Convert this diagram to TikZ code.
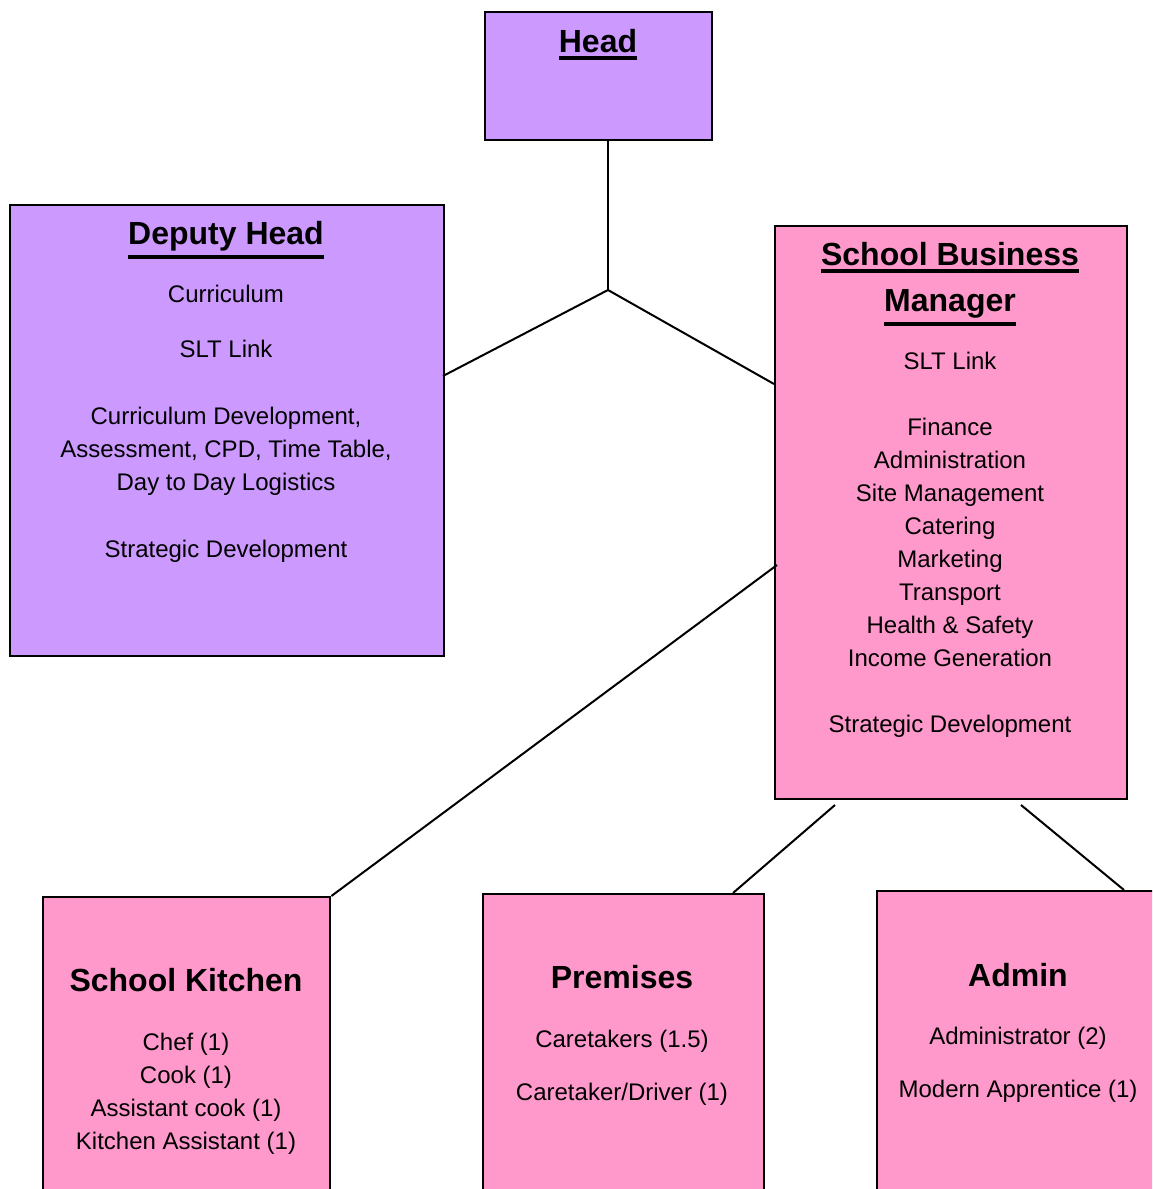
\documentclass[tikz,border=0pt]{standalone}
\usepackage{fontspec}
\setmainfont{Liberation Sans}
\definecolor{lav}{HTML}{CC99FF}
\definecolor{pnk}{HTML}{FF99CC}
\newcommand\myul[1]{\vtop{\hbox{#1}\kern2pt\hrule height 2pt}}
\begin{document}
\begin{tikzpicture}[x=0.5pt,y=-0.5pt,
  box/.style={draw=black,line width=1.2pt,inner sep=0pt,anchor=north west},
  body/.style={font=\fontsize{12}{16.5}\selectfont,align=center,inner sep=0pt},
  ttl/.style={font=\fontsize{16}{23}\selectfont\bfseries,inner sep=0pt,anchor=base},
  link/.style={line width=1pt,draw=black}]
\useasboundingbox (0,0) rectangle (1152,1189);
\clip (0,0) rectangle (1152,1189);
\fill[white] (0,0) rectangle (1152,1189);

% boxes
\node[box,fill=lav,minimum width=113.5pt,minimum height=64pt] (head) at (484,11) {};
\node[box,fill=lav,minimum width=217pt,minimum height=225.5pt] (deputy) at (9,204) {};
\node[box,fill=pnk,minimum width=176pt,minimum height=286.5pt] (sbm) at (774,225) {};
\node[box,fill=pnk,minimum width=143.5pt,minimum height=152pt] (kitchen) at (42,896) {};
\node[box,fill=pnk,minimum width=140.5pt,minimum height=153.5pt] (prem) at (482,893) {};
\node[box,fill=pnk,minimum width=144.5pt,minimum height=155pt] (admin) at (876,890) {};

% connector points
\coordinate (J) at (608,290);
\coordinate (dpIn) at (443,376);
\coordinate (sbIn) at (774,384);
\coordinate (sbK) at (777,565);
\coordinate (sbP) at (835,805);
\coordinate (prIn) at (733,893);
\coordinate (sbA) at (1021,805);
\coordinate (adIn) at (1124,890);

% connectors
\draw[link] (head.south -| J) -- (J);
\draw[link] (J) -- (dpIn);
\draw[link] (J) -- (sbIn);
\draw[link] (sbK) -- (kitchen.north east);
\draw[link] (sbP) -- (prIn);
\draw[link] (sbA) -- (adIn);

% texts
\node[ttl] (headT) at (598,52) {\myul{Head}};
\node[ttl] (depT) at (226,244) {\myul{Deputy Head}};
\node[body] (depB) at (226,424) {Curriculum\\[11pt]SLT Link\\[17pt]Curriculum Development,\\Assessment, CPD, Time Table,\\Day to Day Logistics\\[17pt]Strategic Development};

\node[ttl] (sbT1) at (950,265) {\myul{School Business}};
\node[ttl] (sbT2) at (950,311) {\myul{Manager}};
\node[body] (sbB) at (950,545) {SLT Link\\[16.5pt]Finance\\Administration\\Site Management\\Catering\\Marketing\\Transport\\Health \& Safety\\Income Generation\\[16.5pt]Strategic Development};

\node[ttl] (kitT) at (186,991) {School Kitchen};
\node[body] (kitB) at (186,1093.5) {Chef (1)\\Cook (1)\\Assistant cook (1)\\Kitchen Assistant (1)};

\node[ttl] (prT) at (622,988) {Premises};
\node[body] (prB) at (622,1067.5) {Caretakers (1.5)\\[10pt]Caretaker/Driver (1)};

\node[ttl] (adT) at (1018,986) {Admin};
\node[body] (adB) at (1018,1064.5) {Administrator (2)\\[10pt]Modern Apprentice (1)};
\end{tikzpicture}
\end{document}
